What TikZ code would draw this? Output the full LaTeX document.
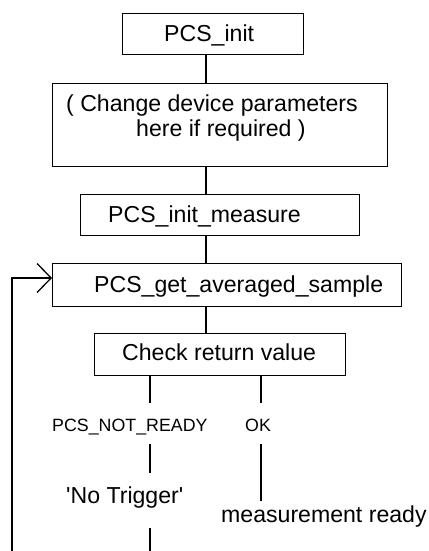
\documentclass[tikz,border=0pt]{standalone}
\usepackage{fontspec}
\setmainfont{Liberation Sans}
\usetikzlibrary{arrows.meta,calc}

\tikzset{
  flowbox/.style={draw, line width=1.3bp, rectangle, inner sep=0pt, anchor=north west},
  boxtext/.style={inner sep=0pt, anchor=base west, font=\fontsize{23.1bp}{27bp}\selectfont},
  smalltext/.style={inner sep=0pt, anchor=base west, font=\fontsize{17.8bp}{21bp}\selectfont},
  link/.style={line width=1.3bp},
  loopback/.style={line width=1.3bp, -{Straight Barb[length=14bp,width=29bp,line width=1.3bp]}}
}

\begin{document}
\begin{tikzpicture}[x=1bp, y=-1bp]
  \useasboundingbox (0,0) rectangle (428,551);

  % process boxes
  \node[flowbox, minimum width=181bp, minimum height=41bp] (init)    at (122,13)  {};
  \node[flowbox, minimum width=335bp, minimum height=83bp] (params)  at (52,83)   {};
  \node[flowbox, minimum width=279bp, minimum height=41bp] (measure) at (80,194)  {};
  \node[flowbox, minimum width=349bp, minimum height=43bp] (sample)  at (52,263)  {};
  \node[flowbox, minimum width=251bp, minimum height=42bp] (check)   at (94,333)  {};

  % box captions
  \node[boxtext] (initT)    at (164,42)  {PCS\_init};
  \node[boxtext] (paramsA)  at (66,111.5) {( Change device parameters};
  \node[boxtext] (paramsB)  at (136,137) {here if required )};
  \node[boxtext] (measureT) at (108,222) {PCS\_init\_measure};
  \node[boxtext] (sampleT)  at (94,292)  {PCS\_get\_averaged\_sample};
  \node[boxtext] (checkT)   at (122,360) {Check return value};

  % branch labels
  \node[smalltext] (notready) at (52,431)  {PCS\_NOT\_READY};
  \node[smalltext] (okT)      at (245,431) {OK};
  \node[boxtext]   (notrig)   at (66,503)  {\textquotesingle No Trigger\textquotesingle};
  \node[boxtext]   (ready)    at (221,522) {measurement ready};

  % main spine between the boxes
  \coordinate (spine) at (206,0);
  \draw[link] (spine |- init.south)    -- (spine |- params.north);
  \draw[link] (spine |- params.south)  -- (spine |- measure.north);
  \draw[link] (spine |- measure.south) -- (spine |- sample.north);
  \draw[link] (spine |- sample.south)  -- (spine |- check.north);

  % branches below the return value check
  \coordinate (nrA) at (150,403);
  \coordinate (nrB) at (150,444);
  \coordinate (nrC) at (150,473);
  \coordinate (nrD) at (150,528);
  \coordinate (nrE) at (150,551);
  \coordinate (okA) at (261,403);
  \coordinate (okB) at (261,444);
  \coordinate (okC) at (261,501);
  \draw[link] (nrA |- check.south) -- (nrA);
  \draw[link] (nrB) -- (nrC);
  \draw[link] (nrD) -- (nrE);
  \draw[link] (okA |- check.south) -- (okA);
  \draw[link] (okB) -- (okC);

  % loop back to the sampling step
  \coordinate (loopbot) at (12,551);
  \coordinate (loopy) at (0,278);
  \draw[loopback] (loopbot) |- (sample.west |- loopy);
\end{tikzpicture}
\end{document}
